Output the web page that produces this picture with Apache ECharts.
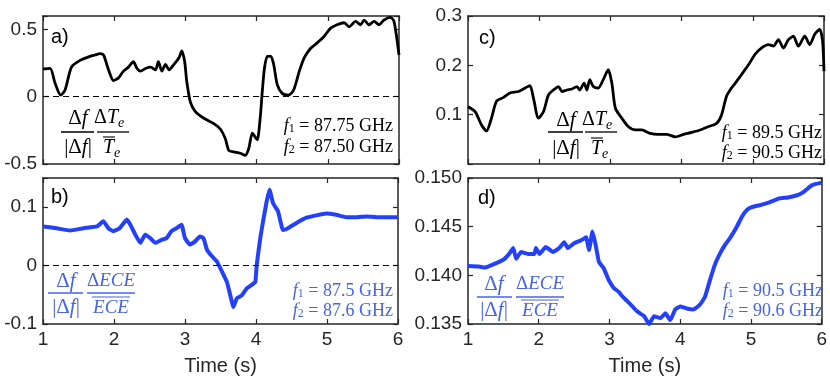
<!DOCTYPE html>
<html>
<head>
<meta charset="utf-8">
<script src="https://cdn.jsdelivr.net/npm/echarts@6.0.0/dist/echarts.min.js"></script>
<style>
  html, body { margin: 0; padding: 0; background: #fff; }
  #chart { width: 830px; height: 377px; }
</style>
</head>
<body>
<div id="chart"></div>
<script>
// panel a) dTe/Te, 87.75 / 87.50 GHz
const timeA = [1.00,1.10,1.17,1.25,1.31,1.40,1.52,1.66,1.73,1.80,1.85,1.92,1.99,2.06,2.13,2.20,2.27,2.32,2.37,2.44,2.51,2.58,2.62,2.67,2.72,2.77,2.84,2.91,2.95,2.99,3.02,3.07,3.14,3.26,3.40,3.49,3.56,3.61,3.68,3.77,3.84,3.89,3.94,3.98,4.01,4.05,4.08,4.11,4.15,4.20,4.24,4.29,4.36,4.45,4.52,4.60,4.67,4.76,4.85,4.95,5.04,5.13,5.23,5.30,5.39,5.46,5.51,5.58,5.65,5.72,5.79,5.88,5.93,6.00];
const valA = [0.206,0.21,0.10,0.012,0.05,0.22,0.27,0.30,0.31,0.32,0.31,0.20,0.12,0.14,0.19,0.22,0.26,0.21,0.19,0.21,0.22,0.20,0.26,0.19,0.24,0.20,0.24,0.29,0.34,0.26,0.11,-0.04,-0.11,-0.16,-0.20,-0.24,-0.31,-0.40,-0.41,-0.42,-0.435,-0.385,-0.27,-0.30,-0.32,-0.16,0.04,0.21,0.30,0.30,0.24,0.09,0.025,0.012,0.05,0.19,0.29,0.36,0.40,0.45,0.51,0.535,0.55,0.52,0.56,0.535,0.57,0.535,0.56,0.535,0.57,0.59,0.56,0.31];

// panel b) dECE/ECE, 87.5 / 87.6 GHz
const timeB = [1.00,1.19,1.38,1.57,1.76,1.85,1.92,1.99,2.08,2.18,2.23,2.30,2.37,2.44,2.51,2.58,2.67,2.74,2.81,2.88,2.95,3.00,3.07,3.14,3.21,3.26,3.31,3.38,3.45,3.52,3.59,3.66,3.68,3.73,3.80,3.87,3.94,3.99,4.01,4.06,4.10,4.15,4.19,4.24,4.31,4.38,4.45,4.57,4.71,4.85,4.99,5.13,5.27,5.42,5.56,5.70,5.84,6.00];
const valB = [0.067,0.064,0.060,0.064,0.067,0.076,0.064,0.059,0.064,0.079,0.070,0.053,0.039,0.053,0.047,0.039,0.044,0.047,0.059,0.064,0.070,0.047,0.036,0.041,0.050,0.047,0.027,0.016,0.007,-0.010,-0.028,-0.062,-0.071,-0.056,-0.051,-0.039,-0.033,-0.028,0.001,0.047,0.076,0.110,0.130,0.107,0.093,0.061,0.064,0.073,0.082,0.086,0.089,0.087,0.083,0.083,0.084,0.083,0.083,0.083];

// panel c) dTe/Te, 89.5 / 90.5 GHz
const timeC = [1.00,1.10,1.19,1.26,1.33,1.40,1.50,1.59,1.71,1.80,1.87,1.92,1.99,2.06,2.13,2.20,2.27,2.32,2.39,2.46,2.53,2.57,2.63,2.67,2.71,2.76,2.83,2.90,2.97,3.02,3.07,3.16,3.25,3.35,3.44,3.56,3.67,3.79,3.91,4.03,4.14,4.26,4.38,4.49,4.56,4.63,4.70,4.77,4.84,4.94,5.03,5.12,5.22,5.29,5.36,5.43,5.50,5.57,5.64,5.73,5.80,5.87,5.94,5.98,6.00];
const valC = [0.116,0.106,0.079,0.067,0.093,0.127,0.135,0.144,0.147,0.154,0.159,0.133,0.093,0.106,0.140,0.150,0.157,0.147,0.150,0.152,0.157,0.150,0.164,0.150,0.171,0.157,0.154,0.171,0.191,0.164,0.113,0.093,0.076,0.069,0.069,0.062,0.060,0.060,0.055,0.060,0.064,0.069,0.076,0.082,0.099,0.137,0.154,0.167,0.181,0.201,0.222,0.235,0.242,0.239,0.252,0.235,0.252,0.259,0.239,0.259,0.242,0.263,0.273,0.249,0.188];

// panel d) dECE/ECE, 90.5 / 90.6 GHz
const timeD = [1.00,1.15,1.24,1.38,1.50,1.57,1.64,1.68,1.75,1.85,1.94,1.96,2.01,2.10,2.20,2.29,2.36,2.41,2.50,2.60,2.67,2.71,2.76,2.81,2.85,2.92,2.99,3.06,3.13,3.20,3.30,3.39,3.49,3.56,3.63,3.72,3.79,3.86,3.93,4.00,4.09,4.19,4.28,4.35,4.42,4.49,4.56,4.63,4.70,4.80,4.87,4.94,5.01,5.12,5.26,5.40,5.52,5.64,5.73,5.85,5.92,6.00];
const valD = [0.14095,0.1409,0.1408,0.1412,0.1416,0.1421,0.1428,0.1417,0.1424,0.1422,0.1422,0.1428,0.1422,0.1429,0.1424,0.1428,0.1434,0.1428,0.1433,0.1436,0.1439,0.1426,0.1445,0.1429,0.1414,0.1407,0.1395,0.1387,0.1383,0.1377,0.1370,0.1363,0.1358,0.1350,0.1358,0.1356,0.1361,0.1354,0.1365,0.1368,0.1366,0.1365,0.1370,0.1378,0.1395,0.1411,0.1422,0.1431,0.1438,0.1450,0.1460,0.1467,0.1470,0.1472,0.1475,0.1479,0.1480,0.1482,0.1485,0.1492,0.1494,0.1495];

const xTicks = [1, 2, 3, 4, 5, 6];
const yTicksA = [-0.5, 0, 0.5];
const yTicksB = [-0.1, 0, 0.1];
const yTicksC = [0.1, 0.2, 0.3];
const yTicksD = [0.135, 0.140, 0.145, 0.150];
const panelNames = ['a)', 'b)', 'c)', 'd)'];
const freqLabels = [
  ['87.75 GHz', '87.50 GHz'],
  ['87.5 GHz', '87.6 GHz'],
  ['89.5 GHz', '90.5 GHz'],
  ['90.5 GHz', '90.6 GHz']
];

const BLACK = '#000000';
const BLUE_LINE = '#2340ff';
const BLUE_TEXT = '#4763e6';
const AXIS = '#262626';
const sans = '"Liberation Sans", Arial, sans-serif';
const serif = '"Liberation Serif", "Times New Roman", serif';

const zip = (t, v) => t.map((x, i) => [x, v[i]]);

const grids = [
  { left: 43, top: 16, width: 356, height: 148 },
  { left: 43, top: 178, width: 355, height: 146 },
  { left: 468, top: 16, width: 356, height: 148 },
  { left: 468, top: 178, width: 356, height: 147 }
];

const yCfg = [
  { ticks: yTicksA, min: -0.5, max: 0.6, interval: 0.5 },
  { ticks: yTicksB, min: -0.1, max: 0.15, interval: 0.1 },
  { ticks: yTicksC, min: 0, max: 0.3, interval: 0.1 },
  { ticks: yTicksD, min: 0.135, max: 0.150, interval: 0.005, digits: 3 }
];

const lineCommon = { show: true, onZero: false, lineStyle: { color: AXIS, width: 1.5 } };
const tickCommon = { show: true, inside: true, length: 5, lineStyle: { color: AXIS, width: 1.2 } };

const xAxis = [];
const yAxis = [];
grids.forEach((g, i) => {
  const bottomRow = i === 1 || i === 3;
  xAxis.push({
    gridIndex: i, type: 'value', position: 'bottom',
    min: xTicks[0], max: xTicks[xTicks.length - 1], interval: 1,
    axisLine: lineCommon, axisTick: tickCommon, splitLine: { show: false },
    axisLabel: { show: bottomRow, color: AXIS, fontFamily: sans, fontSize: 19, margin: 6 },
    name: bottomRow ? 'Time (s)' : '', nameLocation: 'middle', nameGap: 32,
    nameTextStyle: { color: AXIS, fontFamily: sans, fontSize: 20 }
  });
  xAxis.push({
    gridIndex: i, type: 'value', position: 'top',
    min: xTicks[0], max: xTicks[xTicks.length - 1], interval: 1,
    axisLine: lineCommon, axisTick: tickCommon, splitLine: { show: false },
    axisLabel: { show: false }
  });
  const c = yCfg[i];
  yAxis.push({
    gridIndex: i, type: 'value', position: 'left',
    min: c.min, max: c.max, interval: c.interval,
    axisLine: lineCommon, axisTick: tickCommon, splitLine: { show: false },
    axisLabel: {
      color: AXIS, fontFamily: sans, fontSize: 19, margin: 6,
      formatter: v => {
        const hit = c.ticks.find(t => Math.abs(t - v) < 1e-9);
        if (hit === undefined) return '';
        return c.digits ? hit.toFixed(c.digits) : String(hit);
      }
    }
  });
  yAxis.push({
    gridIndex: i, type: 'value', position: 'right',
    min: c.min, max: c.max, interval: c.interval,
    axisLine: lineCommon, axisTick: tickCommon, splitLine: { show: false },
    axisLabel: { show: false }
  });
});

const zeroLine = {
  silent: true, symbol: 'none', label: { show: false },
  lineStyle: { color: BLACK, type: [6, 4], width: 1.2 },
  data: [{ yAxis: 0 }]
};

const seriesData = [zip(timeA, valA), zip(timeB, valB), zip(timeC, valC), zip(timeD, valD)];
const series = seriesData.map((d, i) => {
  const blue = i === 1 || i === 3;
  const s = {
    type: 'line', xAxisIndex: 2 * i, yAxisIndex: 2 * i, data: d,
    showSymbol: false, smooth: blue ? 0.12 : 0.25, clip: true,
    lineStyle: { color: blue ? BLUE_LINE : BLACK, width: blue ? 4 : 2.8 }
  };
  if (i < 2) s.markLine = zeroLine;
  return s;
});

// ---- annotations ----
function rtext(x, y, text, color, align, size) {
  const base = { fill: color, fontFamily: serif, fontSize: size };
  return {
    type: 'text', x: x, y: y, z: 100,
    style: {
      text: text, fill: color, align: align, verticalAlign: 'middle',
      fontFamily: serif, fontSize: size,
      rich: {
        u: Object.assign({}, base),
        i: Object.assign({ fontStyle: 'italic' }, base),
        s: Object.assign({}, base, { fontSize: Math.round(size * 0.65), verticalAlign: 'bottom' }),
        se: Object.assign({ fontStyle: 'italic' }, base, { fontSize: Math.round(size * 0.7) })
      }
    }
  };
}
function hline(x1, x2, y, color, w) {
  return {
    type: 'line', z: 100,
    shape: { x1: x1, y1: y, x2: x2, y2: y },
    style: { stroke: color, lineWidth: w || 1.3 }
  };
}

function formula(color, c1, c2, bar1, bar2, yNum, yBar, yDen, ece) {
  const els = [
    rtext(c1, yNum, '{u|Δ}{i|f}', color, 'center', 21),
    hline(bar1[0], bar1[1], yBar, color),
    rtext(c1, yDen, '{u||Δ}{i|f}{u||}', color, 'center', 21),
    hline(bar2[0], bar2[1], yBar, color)
  ];
  if (ece) {
    els.push(rtext(c2, yNum, '{u|Δ}{i|ECE}', color, 'center', 19));
    els.push(rtext(c2, yDen + 1, '{i|ECE}', color, 'center', 19));
    els.push(hline(c2 - 19, c2 + 19, yDen - 10, color, 1.1));
  } else {
    els.push(rtext(c2 + 5, yNum, '{u|Δ}{i|T}', color, 'right', 20));
    els.push(rtext(c2 + 5, yNum + 5, '{se|e}', color, 'left', 20));
    els.push(rtext(c2 + 1, yDen + 1, '{i|T}', color, 'right', 20));
    els.push(rtext(c2 + 1, yDen + 6, '{se|e}', color, 'left', 20));
    els.push(hline(c2 - 10, c2 + 2, yDen - 10, color, 1.1));
  }
  return els;
}

function freq(xRight, y1, y2, labels, color) {
  return [
    rtext(xRight, y1, '{i|f}{s|1}{u| = ' + labels[0] + '}', color, 'right', 18),
    rtext(xRight, y2, '{i|f}{s|2}{u| = ' + labels[1] + '}', color, 'right', 18)
  ];
}

const labelPos = [[51, 37], [51, 197], [479, 38], [478, 198]];
const graphic = [];
panelNames.forEach((n, i) => {
  graphic.push({
    type: 'text', x: labelPos[i][0], y: labelPos[i][1], z: 100,
    style: { text: n, fill: BLACK, fontFamily: sans, fontSize: 20, align: 'left', verticalAlign: 'middle' }
  });
});
graphic.push(...formula(BLACK, 78, 113, [61, 94], [97, 129], 118, 132, 147, false));
graphic.push(...formula(BLUE_TEXT, 66, 111, [48, 83], [87, 135], 281, 293, 307, true));
graphic.push(...formula(BLACK, 566, 601, [548, 583], [585, 617], 120, 132, 148, false));
graphic.push(...formula(BLUE_TEXT, 494, 540, [477, 512], [516, 564], 284, 297, 310, true));
graphic.push(...freq(393, 126, 147, freqLabels[0], BLACK));
graphic.push(...freq(393, 291, 311, freqLabels[1], BLUE_TEXT));
graphic.push(...freq(822, 133, 153, freqLabels[2], BLACK));
graphic.push(...freq(823, 291, 311, freqLabels[3], BLUE_TEXT));

const chart = echarts.init(document.getElementById('chart'));
chart.setOption({
  animation: false,
  backgroundColor: '#ffffff',
  grid: grids,
  xAxis: xAxis,
  yAxis: yAxis,
  series: series,
  graphic: graphic
});
</script>
</body>
</html>
